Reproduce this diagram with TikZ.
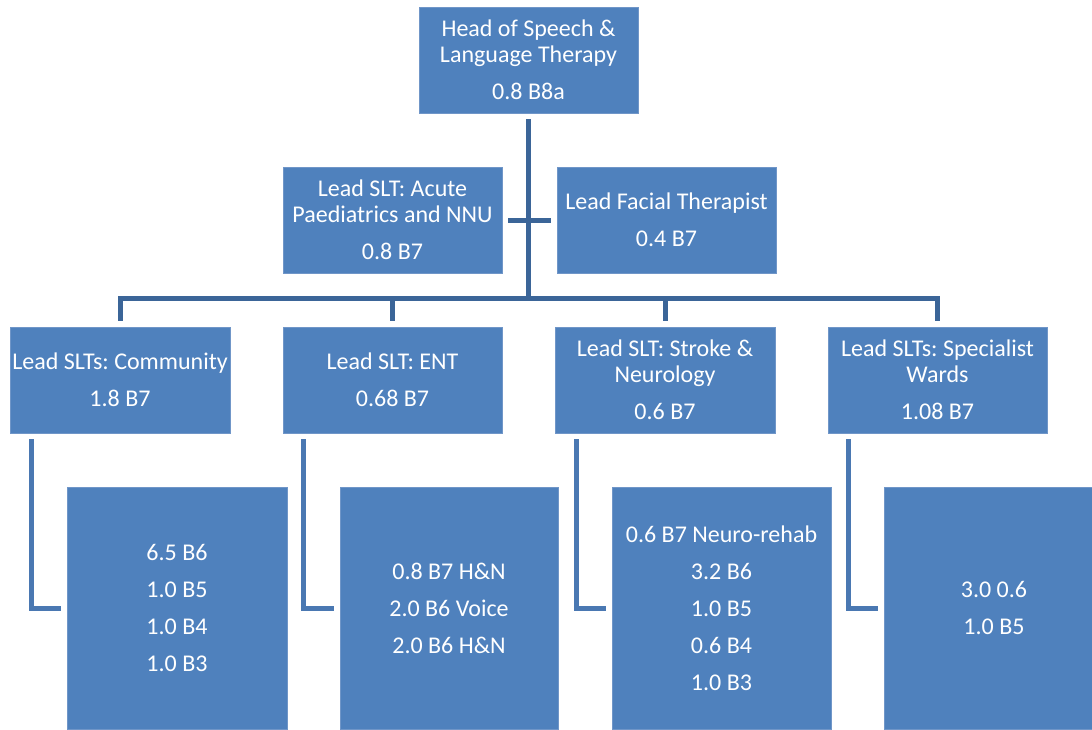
\documentclass[tikz,border=0pt]{standalone}
\usepackage{fontspec}
\setmainfont{Carlito}
\frenchspacing
\definecolor{boxfill}{HTML}{4F81BD}
\definecolor{boxedge}{HTML}{7096C8}
\definecolor{connA}{HTML}{3B6598}
\definecolor{connB}{HTML}{4A78B2}
\begin{document}
\begin{tikzpicture}[x=1pt,y=-1pt,
  box/.style={fill=boxfill,draw=boxedge,line width=0.8pt,text=white,align=center,
    minimum width=219pt,minimum height=106pt,inner sep=0pt,
    font=\fontsize{24}{26}\selectfont\frenchspacing},
  subbox/.style={box,minimum width=220pt,minimum height=242pt,
    font=\fontsize{24}{37}\selectfont\frenchspacing},
  conn/.style={draw=connA,line width=5pt},
  connb/.style={draw=connB,line width=5pt}]
\useasboundingbox (0,0) rectangle (1092,729);
\begin{scope}
\clip (0,0) rectangle (1092,729);
\node[box] (head) at (528.5,60) {Head of Speech \&\\Language Therapy\\[11pt]0.8 B8a};
\node[box] (acute) at (392.5,220) {Lead SLT: Acute\\Paediatrics and NNU\\[11pt]0.8 B7};
\node[box] (facial) at (666.5,220) {Lead Facial Therapist\\[11pt]0.4 B7};
\node[box,minimum width=220pt] (comm) at (120,380) {Lead SLTs: Community\\[11pt]1.8 B7};
\node[box] (ent) at (392.5,380) {Lead SLT: ENT\\[11pt]0.68 B7};
\node[box,minimum width=220pt] (stroke) at (665,380) {Lead SLT: Stroke \&\\Neurology\\[11pt]0.6 B7};
\node[box] (spec) at (937.5,380) {Lead SLTs: Specialist\\Wards\\[11pt]1.08 B7};
\node[subbox] (commsub) at (177,608) {6.5 B6\\1.0 B5\\1.0 B4\\1.0 B3};
\node[subbox,minimum width=218pt] (entsub) at (449,608) {0.8 B7 H\&N\\2.0 B6 Voice\\2.0 B6 H\&N};
\node[subbox,minimum width=219pt] (strokesub) at (721.5,608) {0.6 B7 Neuro-rehab\\3.2 B6\\1.0 B5\\0.6 B4\\1.0 B3};
\node[subbox] (specsub) at (994,608) {3.0 0.6\\1.0 B5};
\coordinate (bar) at (0,298);
\draw[conn] ([yshift=-6pt]head.south) -- (head.south |- bar);
\draw[conn] ([xshift=6pt]acute.east) -- ([xshift=-6pt]facial.west);
\draw[conn] ([yshift=6pt]comm.north) -- (comm.north |- bar) -- (spec.north |- bar) -- ([yshift=6pt]spec.north);
\draw[conn] (ent.north |- bar) -- ([yshift=6pt]ent.north);
\draw[conn] (stroke.north |- bar) -- ([yshift=6pt]stroke.north);
\draw[connb] ([shift={(-89pt,-6pt)}]comm.south) |- ([xshift=-6pt]commsub.west);
\draw[connb] ([shift={(-89.5pt,-6pt)}]ent.south) |- ([xshift=-6pt]entsub.west);
\draw[connb] ([shift={(-89pt,-6pt)}]stroke.south) |- ([xshift=-6pt]strokesub.west);
\draw[connb] ([shift={(-89.5pt,-6pt)}]spec.south) |- ([xshift=-6pt]specsub.west);
\end{scope}
\end{tikzpicture}
\end{document}
